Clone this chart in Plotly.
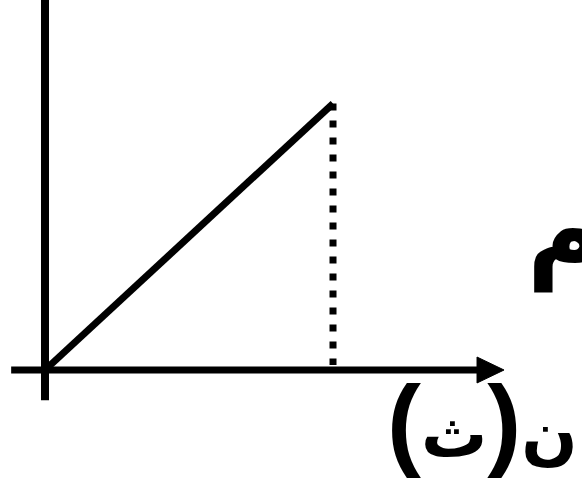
import plotly.graph_objects as go

# data (time, velocity) of the straight-line graph
t_values = [0, 4]
v_values = [0, 3.7]
t_end = 4
v_end = 3.7
y_label = "م"
x_label_letter = "ن"
x_label_unit = "ث"

fig = go.Figure()

# diagonal line
fig.add_trace(go.Scatter(x=t_values, y=v_values, mode="lines",
                         line=dict(color="black", width=7), hoverinfo="skip"))
# dotted drop line
fig.add_trace(go.Scatter(x=[t_end, t_end], y=[v_end, 0.07], mode="lines",
                         line=dict(color="black", width=7, dash="7px,10px"), hoverinfo="skip"))

# axes
fig.add_shape(type="line", x0=0, x1=0, y0=-0.42, y1=5.2, xref="x", yref="y",
              line=dict(color="black", width=8))
fig.add_shape(type="line", x0=-0.47, x1=6.05, y0=0, y1=0, xref="x", yref="y",
              line=dict(color="black", width=7))
fig.add_shape(type="path", path="M 6.0 0.18 L 6.375 0 L 6.0 -0.18 Z", xref="x", yref="y",
              fillcolor="black", line=dict(color="black", width=1))

fig.add_annotation(x=7.23, y=1.92, text="<b>" + y_label + "</b>", showarrow=False,
                   font=dict(family="DejaVu Sans", size=105, color="black"),
                   xanchor="center", yanchor="middle")
paren = '<span style="font-family:Liberation Sans;font-size:102px">'
x_text = ("<b>" + x_label_letter + paren + "(</span>" + x_label_unit
          + paren + ")</span></b>")
fig.add_annotation(x=6.08, y=-0.72, text=x_text, showarrow=False,
                   font=dict(family="DejaVu Sans", size=66, color="black"),
                   xanchor="center", yanchor="middle")

fig.update_layout(width=582, height=478, margin=dict(l=0, r=0, t=0, b=0),
                  paper_bgcolor="white", plot_bgcolor="white", showlegend=False,
                  xaxis=dict(range=[-0.625, 7.458], visible=False, fixedrange=True),
                  yaxis=dict(range=[-1.5, 5.139], visible=False, fixedrange=True))
fig.write_html("out.html", config={"displayModeBar": False},
               post_script="document.body.style.margin='0';document.body.style.overflow='hidden';")
